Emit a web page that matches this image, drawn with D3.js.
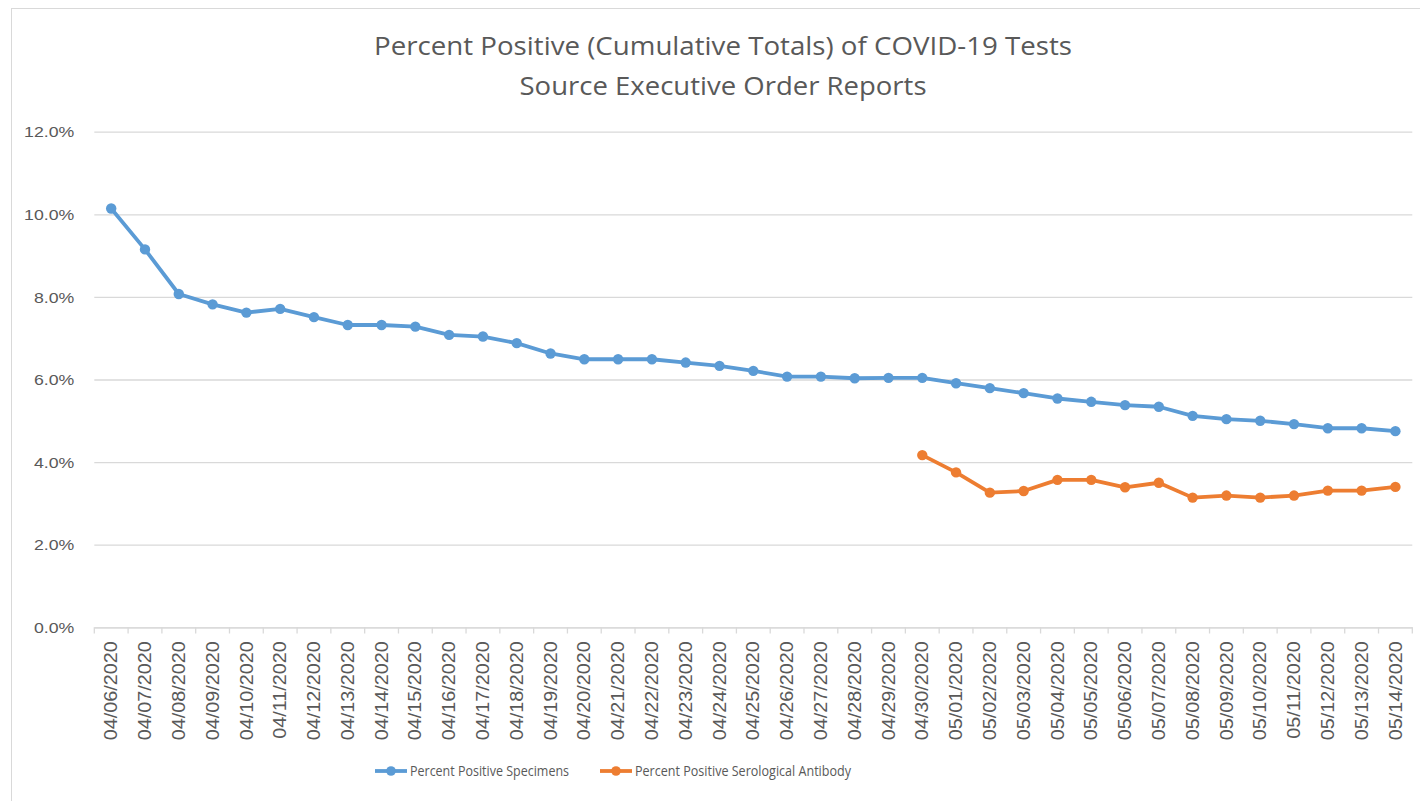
<!DOCTYPE html>
<html><head><meta charset="utf-8">
<script src="https://cdn.jsdelivr.net/npm/d3@7"></script>
<style>body{margin:0;background:#fff;}svg{display:block;font-family:"Open Sans","Noto Sans",sans-serif;}</style>
</head><body>
<svg id="c" width="1420" height="801"></svg>
<script>
const dates = ["04/06/2020","04/07/2020","04/08/2020","04/09/2020","04/10/2020","04/11/2020","04/12/2020","04/13/2020","04/14/2020","04/15/2020","04/16/2020","04/17/2020","04/18/2020","04/19/2020","04/20/2020","04/21/2020","04/22/2020","04/23/2020","04/24/2020","04/25/2020","04/26/2020","04/27/2020","04/28/2020","04/29/2020","04/30/2020","05/01/2020","05/02/2020","05/03/2020","05/04/2020","05/05/2020","05/06/2020","05/07/2020","05/08/2020","05/09/2020","05/10/2020","05/11/2020","05/12/2020","05/13/2020","05/14/2020"];
const specimens = [10.14,9.15,8.07,7.82,7.62,7.71,7.51,7.32,7.32,7.28,7.08,7.04,6.88,6.63,6.49,6.49,6.49,6.41,6.33,6.21,6.07,6.07,6.03,6.04,6.04,5.91,5.79,5.67,5.54,5.46,5.38,5.34,5.12,5.04,5.00,4.92,4.82,4.82,4.75];
const antibody = [null,null,null,null,null,null,null,null,null,null,null,null,null,null,null,null,null,null,null,null,null,null,null,null,4.17,3.75,3.26,3.30,3.57,3.57,3.39,3.50,3.14,3.19,3.14,3.19,3.31,3.31,3.40];
const yTicks = [0,2,4,6,8,10,12];
const seriesNames = ["Percent Positive Specimens","Percent Positive Serological Antibody"];
const colors = ["#5b9bd5","#ed7d31"];
const titleLines = ["Percent Positive (Cumulative Totals) of COVID-19 Tests","Source Executive Order Reports"];

const svg = d3.select("#c");
const textColor = "#595959";
// stretch text horizontally to emulate the narrower, larger reference font
function stretch(sel, factor){
  sel.each(function(){
    const w = this.getComputedTextLength();
    d3.select(this).attr("textLength", w*factor).attr("lengthAdjust","spacingAndGlyphs");
  });
}
// chart border
svg.append("rect").attr("x",11.5).attr("y",8.5).attr("width",1420).attr("height",800)
  .attr("fill","none").attr("stroke","#d9d9d9").attr("stroke-width",1);

const x = d3.scaleBand().domain(dates).range([94.3,1412.3]);
const y = d3.scaleLinear().domain([0,12]).range([627.3,131.7]);

// title
const titleLen = [698, 407];
titleLines.forEach((t,i)=>{
  svg.append("text").attr("x",723).attr("y",55+i*40).attr("text-anchor","middle")
    .attr("font-size",26).attr("fill",textColor).attr("textLength",titleLen[i])
    .attr("lengthAdjust","spacingAndGlyphs").text(t);
});

// gridlines
const gy = svg.append("g").attr("transform","translate(94.3,0)")
  .call(d3.axisLeft(y).tickValues(yTicks).tickSize(-(1412.3-94.3)).tickFormat(d=>d3.format(".1f")(d)+"%"));
gy.select(".domain").remove();
gy.selectAll(".tick line").attr("stroke","#d9d9d9").attr("stroke-width",1.3);
gy.selectAll(".tick text").attr("x",-20).attr("fill",textColor).attr("font-size",15).attr("dy","0.35em");
stretch(gy.selectAll(".tick text"), 1.18);

// x axis
const gx = svg.append("g").attr("transform","translate(0,627.3)")
  .call(d3.axisBottom(x).tickSize(0));
gx.select(".domain").attr("stroke","#d9d9d9").attr("stroke-width",1.3);
gx.selectAll(".tick text").attr("fill",textColor).attr("font-size",17.5)
  .attr("transform","rotate(-90)").attr("text-anchor","end").attr("x",-14).attr("y",0).attr("dy","0.35em");
stretch(gx.selectAll(".tick text"), 1.13);
// band-boundary tick marks
const bounds = dates.map(d=>x(d)).concat([x.range()[1]]);
svg.append("g").selectAll("line").data(bounds).join("line")
  .attr("x1",d=>d).attr("x2",d=>d).attr("y1",627.3).attr("y2",633.5)
  .attr("stroke","#d9d9d9").attr("stroke-width",1.3);

const cx = d=>x(d)+x.bandwidth()/2;
[specimens,antibody].forEach((vals,si)=>{
  const pts = dates.map((d,i)=>({d,v:vals[i]}));
  const line = d3.line().defined(p=>p.v!=null).x(p=>cx(p.d)).y(p=>y(p.v));
  svg.append("path").datum(pts).attr("d",line).attr("fill","none")
    .attr("stroke",colors[si]).attr("stroke-width",3.8).attr("stroke-linejoin","round").attr("stroke-linecap","round");
  svg.append("g").selectAll("circle").data(pts.filter(p=>p.v!=null)).join("circle")
    .attr("cx",p=>cx(p.d)).attr("cy",p=>y(p.v)).attr("r",5.2).attr("fill",colors[si]);
});

// legend
const legX = [375,600];
const legLen = [159, 216];
seriesNames.forEach((n,i)=>{
  const g = svg.append("g").attr("transform",`translate(${legX[i]},771)`);
  g.append("line").attr("x1",0).attr("x2",32).attr("stroke",colors[i]).attr("stroke-width",3.8);
  g.append("circle").attr("cx",16).attr("r",4.8).attr("fill",colors[i]);
  g.append("text").attr("x",35).attr("dy","0.35em").attr("font-size",15).attr("fill",textColor)
    .attr("textLength",legLen[i]).attr("lengthAdjust","spacingAndGlyphs").text(n);
});
</script>
</body></html>
